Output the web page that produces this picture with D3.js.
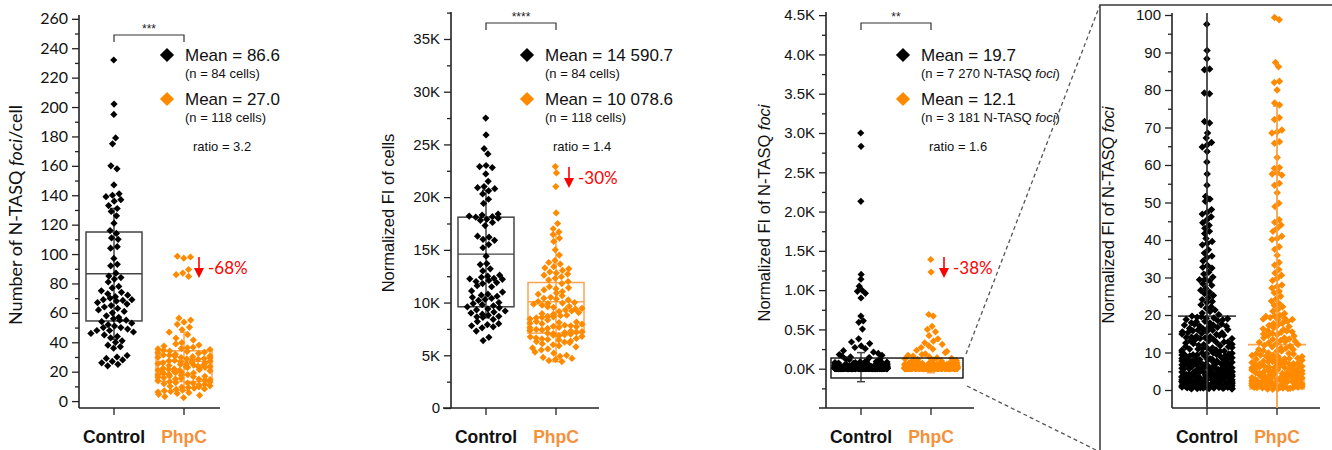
<!DOCTYPE html>
<html lang="en">
<head>
<meta charset="UTF-8">
<script src="https://cdnjs.cloudflare.com/ajax/libs/d3/7.9.0/d3.min.js"></script>
<title>N-TASQ foci in Control vs PhpC</title>
<style>
    body { margin: 0; background: white; font-family: Arial, "Liberation Sans", sans-serif; }
    svg { display: block; }
</style>
</head>
<body>
<div id="content"></div>
<script>
const groups = ["Control", "PhpC"];

// panel 1 : number of N-TASQ foci per cell
const fociPerCellControl = [232, 202, 195, 179, 175, 160, 158, 147, 141, 140, 139, 137, 136, 133, 131, 129, 126, 121, 116, 114,
    111, 110, 105, 104, 97, 93, 92, 87, 85, 84, 83, 81, 78, 77, 75, 74, 73, 72, 71, 70,
    69, 69, 68.5, 68, 67, 66, 65, 64, 63, 62, 61, 60, 58, 57, 56, 55, 55, 54, 53, 52,
    51, 50, 50, 49, 48, 48, 47, 46, 45, 44, 43, 41, 40, 38, 37, 36, 31, 30, 29, 28, 27, 26, 25, 24];
const fociPerCellPhpC = [98.5, 98.0, 97.2, 89.5, 87.1, 86.0, 84.8, 56.4, 55.1, 53.7, 52.2, 50.3, 48.6, 46.9, 45.2, 42.8, 41.5, 39.7,
    38.9, 38.1, 37.4, 36.6, 36.2, 35.5, 35.1, 34.6, 34.0, 33.3, 32.8, 32.5, 31.9, 31.4, 30.7, 30.2, 29.8, 29.3, 28.9, 28.4,
    28.0, 27.6, 27.1, 26.8, 26.3, 25.9, 25.4, 25.1, 24.7, 24.2, 23.8, 23.5, 23.0, 22.6, 22.3, 21.9, 21.4, 21.1, 20.6, 20.2,
    19.8, 19.5, 19.1, 18.7, 18.2, 17.9, 17.5, 17.0, 16.6, 16.3, 15.8, 15.5, 15.0, 14.6, 14.2, 13.8, 13.3, 12.9, 12.5, 12.1,
    11.8, 11.3, 10.9, 10.4, 10.1, 9.7, 9.2, 8.8, 8.3, 7.9, 7.4, 7.0, 6.6, 6.1, 5.7, 5.2, 4.6, 3.9, 3.1, 2.4,
    33.7, 31.1, 29.6, 27.4, 26.0, 24.4, 22.9, 21.6, 19.3, 18.0, 16.9, 24.9, 28.7, 30.5, 35.8, 23.3, 20.9, 14.9, 12.3, 9.5];
// mean, q1, q3, mean-SD, mean+SD
const statsPerCell = [
    { mean: 86.6, q1: 54.5, q3: 115, lo: 42, hi: 131 },
    { mean: 27.0, q1: 13.3, q3: 34.2, lo: 7.2, hi: 46.8 }
];

// panel 2 : normalized FI of cells
const cellFIControl = [27500, 25900, 24600, 24100, 23000, 22900, 22800, 22200, 21500, 21000, 20900, 20800, 20600, 20300,
    19800, 19400, 18400, 18300, 18200, 18150, 18100, 18000, 17900, 17800, 17600, 17300, 16300, 16200, 16000, 15900,
    15500, 15200, 14400, 13700, 13600, 13200, 13000, 12600, 12500, 12400, 12300, 12250, 12200, 12100, 12000, 11900,
    11800, 11600, 11500, 11100, 11000, 10800, 10700, 10600, 10500, 10400, 10300, 10200, 10000, 9900, 9800, 9700,
    9600, 9500, 9400, 9300, 9200, 9100, 9000, 8900, 8800, 8700, 8650, 8600, 8400, 8200, 8000, 7900, 7800, 7700,
    7600, 7300, 6700, 6400];
const cellFIPhpC = [22900, 22300, 21000, 18500, 17500, 17000, 16700, 16450, 16100, 15800, 15000, 14500, 14000, 13800,
    13650, 13400, 13200, 13050, 12900, 12700, 12600, 12450, 12300, 12150, 12000, 11800, 11500, 11300, 11200, 11050,
    10900, 10800, 10650, 10500, 10400, 10250, 10100, 10000, 9900, 9850, 9750, 9650, 9550, 9450, 9400, 9300, 9200,
    9150, 9050, 8950, 8900, 8800, 8700, 8600, 8550, 8450, 8350, 8200, 8150, 8050, 8000, 7950, 7850, 7800, 7700,
    7650, 7600, 7550, 7450, 7400, 7350, 7300, 7250, 7200, 7150, 7050, 7000, 6950, 6900, 6800, 6750, 6650, 6600,
    6500, 6450, 6350, 6300, 6250, 6200, 6100, 6000, 5900, 5800, 5700, 5500, 5300, 5200, 5000, 4900, 4800, 4700,
    4600, 4500, 4400, 10350, 9600, 8750, 7750, 7100, 6550, 11400, 12800, 13300, 9950, 8650, 8100, 6850, 5600];
const statsCellFI = [
    { mean: 14590.7, q1: 9600, q3: 18100, lo: 8550, hi: 20650 },
    { mean: 10078.6, q1: 7100, q3: 11900, lo: 4400, hi: 16500 }
];

// panels 3 and 4 : normalized FI of N-TASQ foci (a sample of the foci)
const fociFIControl = [3000, 2830, 2130, 1200, 1140, 1050, 1000, 985, 960, 900, 670, 610, 590, 505, 380, 340, 320, 290,
    270, 255, 230, 210, 195, 180, 170, 160, 150, 142, 135, 128, 120, 114, 108, 103,
    97.5, 90.5, 88.3, 85.6, 85.4, 79.2, 79.0, 71.6, 71.2, 68.5, 67.2, 66.0, 65.3, 64.8, 63.6, 60.8, 57.6, 54.6,
    51.6, 50.9, 50.3, 48.1, 47.4, 46.9, 46.2, 45.4, 44.6, 43.9, 43.1, 42.3, 41.7, 40.4, 39.6, 39.1, 38.7, 37.4,
    36.5, 35.7, 35.3, 34.4, 33.2, 32.7, 32.5, 31.4, 30.9, 30.1, 29.5, 29.4, 29.1, 28.3, 27.9, 27.1, 26.6, 26.1,
    25.7, 25.2, 24.6, 24.1, 23.6, 23.3, 22.7, 22.2, 21.8, 21.3, 20.9, 20.5, 20.1, 19.7, 19.4, 19.1, 18.8, 18.5,
    18.2, 17.9, 17.6, 17.3, 17.0, 16.7, 16.4, 16.1, 15.8, 15.5, 15.2, 14.9, 14.6, 14.3, 14.0, 13.7, 13.4, 13.1,
    12.8, 12.5, 12.2, 11.9, 11.6, 11.3, 11.0, 10.7, 10.4, 10.1, 9.8, 9.6, 9.3, 9.1, 8.9, 8.6, 8.4, 8.2, 8.0,
    7.8, 7.6, 7.4, 7.2, 7.0, 6.9, 6.7, 6.5, 6.3, 6.2, 6.0, 5.9, 5.7, 5.6, 5.4, 5.3, 5.1, 5.0, 4.9, 4.7, 4.6,
    4.5, 4.3, 4.2, 4.1, 4.0, 3.9, 3.8, 3.7, 3.6, 3.5, 3.4, 3.3, 3.2, 3.1, 3.0, 2.9, 2.8, 2.7, 2.6, 2.5, 2.4,
    2.3, 2.2, 2.1, 2.0, 1.9, 1.8, 1.7, 1.6, 1.5, 1.4, 1.3, 1.2, 1.1, 1.0, 0.9, 0.8, 0.7, 0.6, 0.5, 0.4, 0.3,
    15.3, 12.7, 9.4, 7.7, 6.1, 4.4, 2.9, 1.7, 0.6, 11.2, 8.7, 5.8, 3.6, 2.2, 1.1, 13.9, 10.6, 7.3, 4.8, 2.7,
    17.2, 14.2, 9.9, 6.6, 3.3, 1.4, 0.8, 19.0, 16.0, 8.1, 5.2, 2.5, 1.9, 0.5, 10.9, 6.8, 3.9, 1.2,
    0.35, 0.72, 1.05, 1.38, 1.81, 2.14, 2.46, 2.93, 3.27, 3.55, 3.98, 4.31, 4.77, 5.09, 5.44, 5.93, 6.28, 6.71,
    7.05, 7.52, 7.96, 8.33, 8.79, 9.21, 9.67, 0.51, 0.88, 1.22, 1.57, 2.03, 2.37, 2.71, 3.12, 3.46, 3.84, 4.18,
    4.55, 4.96, 5.35, 5.78, 6.15, 6.58, 6.93, 7.38, 7.81, 8.16, 8.62, 9.05, 9.48, 9.88, 0.43, 0.96, 1.44, 1.92,
    2.58, 3.03, 3.61, 4.07, 4.62, 5.21, 5.67, 6.36, 6.82, 7.44, 8.05, 8.71, 9.34, 0.62, 1.13, 1.68, 2.29, 2.86,
    3.39, 3.92, 4.44, 5.01, 5.59, 6.22, 6.97, 7.69, 8.48, 9.15, 10.3, 10.9, 11.5, 12.1, 12.8, 13.4, 14.1, 14.8,
    15.6, 16.3, 17.1, 17.9, 18.7, 19.5, 10.6, 11.8, 13.1, 14.5, 15.9, 17.5, 19.2, 11.2, 12.4, 13.7, 15.1, 16.7,
    18.3, 0.3, 0.55, 0.8, 1.5, 2.4, 3.3, 4.2, 5.6, 6.4, 7.2];
const fociFIPhpC = [1390, 1230, 690, 670, 540, 500, 470, 420, 380, 350, 330, 310, 290, 270, 250, 235, 220, 205, 190,
    180, 170, 160, 150, 140, 132, 125, 118, 111, 105,
    99.3, 98.7, 87.3, 86.2, 82.3, 82.0, 80.0, 76.5, 76.0, 72.6, 72.1, 69.3, 68.8, 68.5, 66.2, 65.8, 62.0, 59.3,
    59.1, 57.9, 57.6, 57.3, 55.1, 54.6, 52.6, 49.8, 48.9, 45.4, 44.7, 44.0, 43.1, 42.3, 41.0, 40.4, 40.1, 38.2,
    37.5, 35.9, 34.0, 33.3, 32.1, 31.2, 30.6, 29.8, 29.2, 28.0, 27.6, 27.2, 26.3, 25.9, 25.0, 24.3, 23.7, 23.1,
    22.6, 22.2, 21.5, 21.0, 20.4, 19.9, 19.6, 19.2, 18.7, 18.3, 17.8, 17.2, 16.9, 16.3, 15.8, 15.4, 14.9, 14.4,
    13.9, 13.5, 13.0, 12.6, 12.1, 11.7, 11.2, 10.8, 10.3, 9.9, 9.6, 9.2, 8.9, 8.5, 8.2, 7.9, 7.6, 7.3, 7.0, 6.7,
    6.4, 6.1, 5.9, 5.6, 5.3, 5.1, 4.8, 4.6, 4.3, 4.1, 3.9, 3.7, 3.4, 3.2, 3.0, 2.8, 2.6, 2.4, 2.2, 2.0, 1.8, 1.6,
    1.4, 1.2, 1.0, 0.8, 0.6, 0.4, 0.2, 16.1, 13.2, 10.5, 8.0, 5.5, 3.6, 2.1, 0.9, 14.7, 11.5, 7.1, 4.4, 2.7,
    1.3, 0.5, 18.9, 12.9, 9.3, 6.3, 3.1, 1.7, 0.7, 15.1, 6.9, 4.0, 2.3,
    0.31, 0.66, 1.02, 1.41, 1.83, 2.27, 2.69, 3.15, 3.58, 4.02, 4.49, 4.93, 5.42, 5.88, 6.37, 6.86, 7.39, 7.91,
    8.47, 9.03, 9.61, 0.48, 0.87, 1.26, 1.69, 2.12, 2.55, 3.01, 3.47, 3.95, 4.41, 4.89, 5.37, 5.91, 6.48, 7.07,
    7.68, 8.32, 8.99, 9.72, 0.57, 1.11, 1.63, 2.18, 2.77, 3.36, 3.98, 4.63, 5.29, 6.01, 6.75, 7.53, 8.38, 9.27,
    10.4, 11.1, 11.9, 12.7, 13.6, 14.5, 15.5, 16.6, 17.7, 18.8, 19.7, 10.8, 12.3, 13.9, 15.7, 17.4, 19.3, 0.25,
    0.7, 1.55, 2.45, 3.3, 4.25, 5.15, 6.2];
const statsFociFI = [
    { mean: 19.7, q1: 0.6, q3: 2.7, lo: -165, hi: 205 },
    { mean: 12.1, q1: 0.3, q3: 3.2, lo: -51.5, hi: 75.7 }
];

const legendMeans = [["86.6", "27.0"], ["14 590.7", "10 078.6"], ["19.7", "12.1"]];
const legendCounts = [["84 cells", "118 cells"], ["84 cells", "118 cells"], ["7 270 N-TASQ", "3 181 N-TASQ"]];
const ratios = ["3.2", "1.4", "1.6"];
const changes = ["-68%", "-30%", "-38%"];
const stars = ["***", "****", "**"];

const colors = ["#000000", "#FF8A00"];
const boxColors = ["#444444", "#F8A551"];
const labelColors = ["#111111", "#F4913B"];

const W = 1332, H = 450;
const svg = d3.select("#content").append("svg").attr("width", W).attr("height", H);

const diamond = size => d3.symbol().type(d3.symbolSquare).size(size);

// x positions of points: a beeswarm from d3.forceSimulation, squeezed into the box width
function swarm(values, y, cx, half, r) {
    const nodes = values.map((v, i) => ({ v, ty: y(v), y: y(v), x: cx + ((i * 0.618034) % 1 - 0.5) * 4 }));
    const sim = d3.forceSimulation(nodes)
        .force("x", d3.forceX(cx).strength(0.03))
        .force("y", d3.forceY(d => d.ty).strength(1))
        .force("c", d3.forceCollide(r))
        .stop();
    for (let i = 0; i < 220; i++) {
        sim.tick();
        nodes.forEach(n => { n.x = Math.max(cx - half, Math.min(cx + half, n.x)); });
    }
    return nodes;
}

function drawPanel(p) {
    const g = svg.append("g");
    const y = d3.scaleLinear().domain(p.domain).range([408, p.top]);
    const axisColor = "#222";

    // y axis
    g.append("g")
        .attr("transform", `translate(${p.ax},0)`)
        .call(d3.axisLeft(y).tickValues(p.minor).tickSize(4).tickFormat(""))
        .call(a => a.select(".domain").remove())
        .call(a => a.selectAll("line").attr("stroke", axisColor).attr("stroke-width", 1.3));
    g.append("g")
        .attr("transform", `translate(${p.ax},0)`)
        .call(d3.axisLeft(y).tickValues(p.major).tickSize(7).tickPadding(4).tickFormat(p.fmt))
        .call(a => a.select(".domain").remove())
        .call(a => a.selectAll("line").attr("stroke", axisColor).attr("stroke-width", 1.3))
        .call(a => a.selectAll("text").attr("fill", "#111").style("font-size", p.tickFont)
            .style("font-family", p.fontFamily));
    g.append("line").attr("x1", p.ax).attr("x2", p.ax).attr("y1", p.top).attr("y2", 408)
        .attr("stroke", axisColor).attr("stroke-width", 1.6);

    // x axis
    const x = d3.scaleOrdinal().domain(groups).range(p.cx);
    g.append("line").attr("x1", p.xa[0]).attr("x2", p.xa[1]).attr("y1", 408).attr("y2", 408)
        .attr("stroke", axisColor).attr("stroke-width", 1.6);
    g.selectAll(".xt").data(groups).join("line")
        .attr("x1", d => x(d)).attr("x2", d => x(d)).attr("y1", 408).attr("y2", 415)
        .attr("stroke", axisColor).attr("stroke-width", 1.3);
    g.selectAll(".xl").data(groups).join("text")
        .attr("x", d => x(d)).attr("y", 443).attr("text-anchor", "middle")
        .attr("font-weight", "bold").attr("font-size", 17.5)
        .attr("fill", (d, i) => labelColors[i]).text(d => d);

    // y title
    const t = g.append("text")
        .attr("transform", `translate(${p.titleX},${p.titleY}) rotate(-90)`)
        .attr("text-anchor", "middle").attr("font-size", p.titleFont)
        .style("font-family", p.fontFamily).attr("fill", "#111");
    p.title.forEach(([s, it]) => t.append("tspan").attr("font-style", it ? "italic" : null).text(s));

    // boxes
    p.stats.forEach((s, i) => {
        const c = x(groups[i]), h = p.boxHalf;
        const lo = Math.max(s.lo, p.domain[0]), hi = Math.min(s.hi, p.domain[1]);
        g.append("line").attr("x1", c).attr("x2", c).attr("y1", y(lo)).attr("y2", y(hi))
            .attr("stroke", boxColors[i]).attr("stroke-width", 1.5);
        [s.lo, s.hi].forEach(v => {
            if (v > p.domain[0] && v < p.domain[1])
                g.append("line").attr("x1", c - 4).attr("x2", c + 4).attr("y1", y(v)).attr("y2", y(v))
                    .attr("stroke", boxColors[i]).attr("stroke-width", 1.5);
        });
        g.append("rect").attr("x", c - h).attr("width", 2 * h)
            .attr("y", y(s.q3)).attr("height", y(s.q1) - y(s.q3))
            .attr("fill", "none").attr("stroke", boxColors[i]).attr("stroke-width", 1.5);
        g.append("line").attr("x1", c - h - p.meanExtra).attr("x2", c + h + p.meanExtra)
            .attr("y1", y(s.mean)).attr("y2", y(s.mean))
            .attr("stroke", boxColors[i]).attr("stroke-width", p.meanWidth);
    });

    // points
    p.values.forEach((vals, i) => {
        const shown = vals.filter(v => v <= p.domain[1]);
        const nodes = swarm(shown, y, x(groups[i]), p.boxHalf - 2, p.r);
        g.append("g").selectAll("path").data(nodes).join("path")
            .attr("d", diamond(p.dotSize)())
            .attr("transform", d => `translate(${d.x},${y(d.v)}) rotate(45)`)
            .attr("fill", colors[i]);
        if (p.redraw) {
            g.append("line").attr("x1", x(groups[i])).attr("x2", x(groups[i]))
                .attr("y1", y(Math.max(p.stats[i].lo, p.domain[0]))).attr("y2", y(Math.min(p.stats[i].hi, p.domain[1])))
                .attr("stroke", boxColors[i]).attr("stroke-width", 1.3);
        }
    });

    return { g, y, x };
}

function annotate(k, g, x, a) {
    // significance bracket
    const [c0, c1] = x.range();
    g.append("path").attr("d", `M${c0},${a.by + 7}V${a.by}H${c1}V${a.by + 7}`)
        .attr("fill", "none").attr("stroke", "#333").attr("stroke-width", 1.2);
    g.append("text").attr("x", (c0 + c1) / 2).attr("y", a.by - 2).attr("text-anchor", "middle")
        .attr("font-size", 12).attr("fill", "#222").text(stars[k]);

    // legend
    groups.forEach((grp, i) => {
        const yy = 55 + i * 44;
        g.append("path").attr("d", diamond(100)())
            .attr("transform", `translate(${a.lx},${yy}) rotate(45)`).attr("fill", colors[i]);
        g.append("text").attr("x", a.lx + 18).attr("y", yy + 6).attr("font-size", 17).attr("fill", "#111")
            .text(`Mean = ${legendMeans[k][i]}`);
        const n = g.append("text").attr("x", a.lx + 18).attr("y", yy + 23).attr("font-size", 13).attr("fill", "#111");
        n.append("tspan").text(`(n = ${legendCounts[k][i]}`);
        if (k === 2) n.append("tspan").attr("font-style", "italic").text(" foci");
        n.append("tspan").text(")");
    });
    g.append("text").attr("x", a.lx + 26).attr("y", 151).attr("font-size", 13).attr("fill", "#111")
        .text(`ratio = ${ratios[k]}`);

    // red arrow with the change
    g.append("line").attr("x1", a.ax).attr("x2", a.ax).attr("y1", a.ay).attr("y2", a.ay + 12)
        .attr("stroke", "#FF0000").attr("stroke-width", 1.6);
    g.append("path").attr("d", `M${a.ax - 5},${a.ay + 11}L${a.ax + 5},${a.ay + 11}L${a.ax},${a.ay + 21}Z`)
        .attr("fill", "#FF0000");
    g.append("text").attr("x", a.ax + 9).attr("y", a.ay + 17).attr("font-size", 17).attr("fill", "#FF0000")
        .style("font-family", "Lato, Arial, sans-serif").text(changes[k]);
}

// panel 1
const p1 = drawPanel({
    domain: [-4.7, 262.6], top: 15, ax: 79, xa: [79, 220], cx: [114, 184], boxHalf: 28,
    major: d3.range(0, 261, 20), minor: d3.range(10, 251, 20), fmt: d => d, tickFont: "16px",
    fontFamily: "Lato, Arial, sans-serif",
    title: [["Number of N-TASQ "], ["foci", true], ["/cell"]], titleX: 22, titleY: 215, titleFont: 18,
    stats: statsPerCell, values: [fociPerCellControl, fociPerCellPhpC], r: 3.4, dotSize: 26,
    meanExtra: 0, meanWidth: 1.4
});
annotate(0, p1.g, p1.x, { by: 35, lx: 167, ax: 199, ay: 257 });

// panel 2
const p2 = drawPanel({
    domain: [0, 37560], top: 12, ax: 451, xa: [443, 599], cx: [486, 556], boxHalf: 28,
    major: d3.range(0, 35001, 5000), minor: d3.range(2500, 37501, 5000),
    fmt: d => d === 0 ? "0" : d / 1000 + "K", tickFont: "15px", fontFamily: "Arial, sans-serif",
    title: [["Normalized FI of cells"]], titleX: 394, titleY: 213, titleFont: 16.5,
    stats: statsCellFI, values: [cellFIControl, cellFIPhpC], r: 3.3, dotSize: 26,
    meanExtra: 0, meanWidth: 1.4
});
annotate(1, p2.g, p2.x, { by: 23, lx: 527, ax: 569, ay: 167 });

// panel 3
const p3 = drawPanel({
    domain: [-500, 4540], top: 12, ax: 826, xa: [819, 974], cx: [861, 931], boxHalf: 28,
    major: d3.range(0, 4501, 500), minor: d3.range(-250, 4251, 500),
    fmt: d => d3.format(".1f")(d / 1000) + "K", tickFont: "15px", fontFamily: "Arial, sans-serif",
    title: [["Normalized FI of N-TASQ "], ["foci", true]], titleX: 770, titleY: 213, titleFont: 16.5,
    stats: statsFociFI, values: [fociFIControl, fociFIPhpC], r: 2.4, dotSize: 26,
    meanExtra: 0, meanWidth: 2.2
});
annotate(2, p3.g, p3.x, { by: 23, lx: 903, ax: 944, ay: 257 });

// zoom frame in panel 3 and the dashed guides to panel 4
const zTop = p3.y(136), zBot = p3.y(-118);
p3.g.append("rect").attr("x", 831).attr("y", zTop).attr("width", 132).attr("height", zBot - zTop)
    .attr("fill", "none").attr("stroke", "#111").attr("stroke-width", 1.4);
svg.append("path").attr("d", `M966,${zTop - 4}L1100,5`)
    .attr("fill", "none").attr("stroke", "#555").attr("stroke-width", 1.3).attr("stroke-dasharray", "4,3");
svg.append("path").attr("d", `M967,${zBot + 8}L1100,452`)
    .attr("fill", "none").attr("stroke", "#555").attr("stroke-width", 1.3).attr("stroke-dasharray", "4,3");

// panel 4 (close-up of panel 3 between 0 and 100)
svg.append("rect").attr("x", 1100).attr("y", 5).attr("width", 260).attr("height", 460)
    .attr("fill", "white").attr("stroke", "#444").attr("stroke-width", 1.6);
drawPanel({
    domain: [-4.8, 100.53], top: 13, ax: 1172, xa: [1172, 1320], cx: [1207, 1277], boxHalf: 27,
    major: d3.range(0, 101, 10), minor: d3.range(5, 96, 10), fmt: d => d, tickFont: "15px",
    fontFamily: "Arial, sans-serif",
    title: [["Normalized FI of N-TASQ "], ["foci", true]], titleX: 1114, titleY: 215, titleFont: 16.5,
    stats: statsFociFI, values: [fociFIControl, fociFIPhpC], r: 2.6, dotSize: 28,
    meanExtra: 2, meanWidth: 1.6, redraw: true
});
</script>
</body>
</html>
